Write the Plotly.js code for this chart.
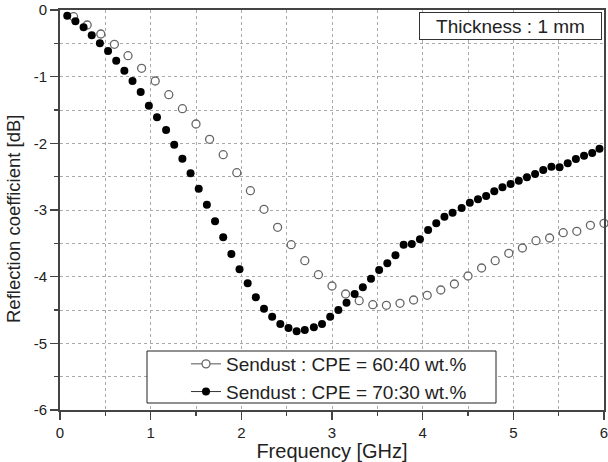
<!DOCTYPE html>
<html><head><meta charset="utf-8">
<script src="https://cdn.plot.ly/plotly-3.0.1.min.js"></script>
<style>html,body{margin:0;padding:0;background:#fff}#chart{width:608px;height:462px}</style>
</head><body><div id="chart"></div>
<script>
const freq7030 = [0.08,0.17,0.26,0.35,0.44,0.53,0.62,0.71,0.80,0.89,0.98,1.07,1.17,1.26,1.35,1.44,1.53,1.62,1.71,1.80,1.89,1.98,2.07,2.16,2.25,2.34,2.43,2.52,2.61,2.70,2.80,2.89,2.98,3.07,3.16,3.25,3.34,3.43,3.52,3.61,3.70,3.79,3.88,3.97,4.06,4.15,4.24,4.33,4.43,4.52,4.61,4.70,4.79,4.88,4.97,5.06,5.15,5.24,5.33,5.42,5.51,5.60,5.69,5.78,5.87,5.95];
const rc7030 = [-0.085,-0.17,-0.26,-0.38,-0.50,-0.615,-0.76,-0.91,-1.065,-1.23,-1.435,-1.61,-1.80,-2.02,-2.23,-2.45,-2.68,-2.92,-3.17,-3.41,-3.66,-3.89,-4.10,-4.31,-4.48,-4.60,-4.71,-4.77,-4.82,-4.80,-4.76,-4.71,-4.60,-4.50,-4.39,-4.26,-4.16,-4.03,-3.90,-3.80,-3.68,-3.52,-3.51,-3.44,-3.30,-3.20,-3.10,-3.04,-2.97,-2.89,-2.84,-2.79,-2.72,-2.66,-2.61,-2.56,-2.51,-2.46,-2.40,-2.35,-2.36,-2.30,-2.235,-2.185,-2.145,-2.08];
const freq6040 = [0.15,0.30,0.45,0.60,0.75,0.90,1.05,1.20,1.35,1.50,1.65,1.80,1.95,2.10,2.25,2.40,2.55,2.70,2.85,3.00,3.15,3.30,3.45,3.60,3.75,3.90,4.05,4.20,4.35,4.50,4.65,4.80,4.95,5.10,5.25,5.40,5.55,5.70,5.85,6.00];
const rc6040 = [-0.10,-0.225,-0.36,-0.515,-0.685,-0.875,-1.065,-1.27,-1.48,-1.71,-1.94,-2.17,-2.44,-2.71,-2.99,-3.26,-3.52,-3.76,-3.97,-4.14,-4.26,-4.36,-4.42,-4.43,-4.40,-4.35,-4.28,-4.20,-4.11,-3.99,-3.87,-3.76,-3.65,-3.57,-3.46,-3.42,-3.34,-3.32,-3.23,-3.20];
const seriesNames = ['Sendust : CPE = 60:40 wt.%', 'Sendust : CPE = 70:30 wt.%'];
const xTickVals = [0,1,2,3,4,5,6];
const xTickText = ['0','1','2','3','4','5','6'];
const yTickVals = [-6,-5,-4,-3,-2,-1,0];
const yTickText = ['-6','-5','-4','-3','-2','-1','0'];

const FONT = 'Liberation Sans, Arial, sans-serif';
const openMarker = {symbol:'circle', size:8, color:'#fff', line:{width:1.3, color:'#666'}};
const fillMarker = {symbol:'circle', size:8, color:'#000', line:{width:0}};

const traces = [
  {x:freq6040, y:rc6040, mode:'markers', marker:openMarker, showlegend:false, cliponaxis:false},
  {x:freq7030, y:rc7030, mode:'markers', marker:fillMarker, showlegend:false, cliponaxis:false},
  {x:[null], y:[null], mode:'lines+markers', name:seriesNames[0], line:{color:'#555', width:1}, marker:openMarker},
  {x:[null], y:[null], mode:'lines+markers', name:seriesNames[1], line:{color:'#333', width:1}, marker:fillMarker}
];

const axisCommon = {
  showline:true, linecolor:'#444', linewidth:2, mirror:true,
  ticks:'outside', ticklen:8, tickwidth:1.5, tickcolor:'#444',
  showgrid:true, gridcolor:'#aaa', griddash:'dot', gridwidth:1,
  zeroline:false, tickfont:{family:FONT, size:15, color:'#222'},
  tickmode:'array', ticklabeloverflow:'allow'
};

const layout = {
  width:608, height:462,
  margin:{l:60, r:4, t:10, b:52},
  paper_bgcolor:'#fff', plot_bgcolor:'#fff',
  font:{family:FONT, color:'#222'},
  xaxis: Object.assign({}, axisCommon, {
    range:[0,6], tickvals:xTickVals, ticktext:xTickText,
    minor:{dtick:0.5, tick0:0, ticks:'outside', ticklen:4, tickcolor:'#444', showgrid:true, gridcolor:'#aaa', griddash:'dot'},
    title:{text:'Frequency [GHz]', font:{size:20, color:'#222'}, standoff:8}
  }),
  yaxis: Object.assign({}, axisCommon, {
    range:[-6,0], tickvals:yTickVals, ticktext:yTickText,
    minor:{dtick:0.5, tick0:0, ticks:'outside', ticklen:4, tickcolor:'#444', showgrid:true, gridcolor:'#aaa', griddash:'dot'}
  }),
  shapes:[{type:'rect', xref:'paper', yref:'paper', x0:(147-60)/544, x1:(496-60)/544, y0:(410-403)/400, y1:(410-351)/400,
    line:{color:'#222', width:1}, fillcolor:'#fff', layer:'above'}],
  legend:{x:(186-60)/544, y:(410-345)/400, xanchor:'left', yanchor:'top', bgcolor:'rgba(0,0,0,0)', borderwidth:0,
    font:{size:19, color:'#222'}, tracegroupgap:0},
  annotations:[
    {xref:'paper', yref:'paper', x:(602-60)/544, y:(410-11.5)/400, xanchor:'right', yanchor:'top',
    text:'Thickness : 1 mm', showarrow:false, font:{size:19, color:'#222'}, width:175, height:20, align:'center',
    bgcolor:'#fff', bordercolor:'#333', borderwidth:1, borderpad:3},
    {xref:'paper', yref:'paper', x:(13-60)/544, y:(410-219)/400, xanchor:'center', yanchor:'middle',
    text:'Reflection coefficient [dB]', textangle:-90, showarrow:false, font:{size:18.5, color:'#222'}}
  ]
};

Plotly.newPlot('chart', traces, layout, {displayModeBar:false, staticPlot:true});
</script></body></html>
